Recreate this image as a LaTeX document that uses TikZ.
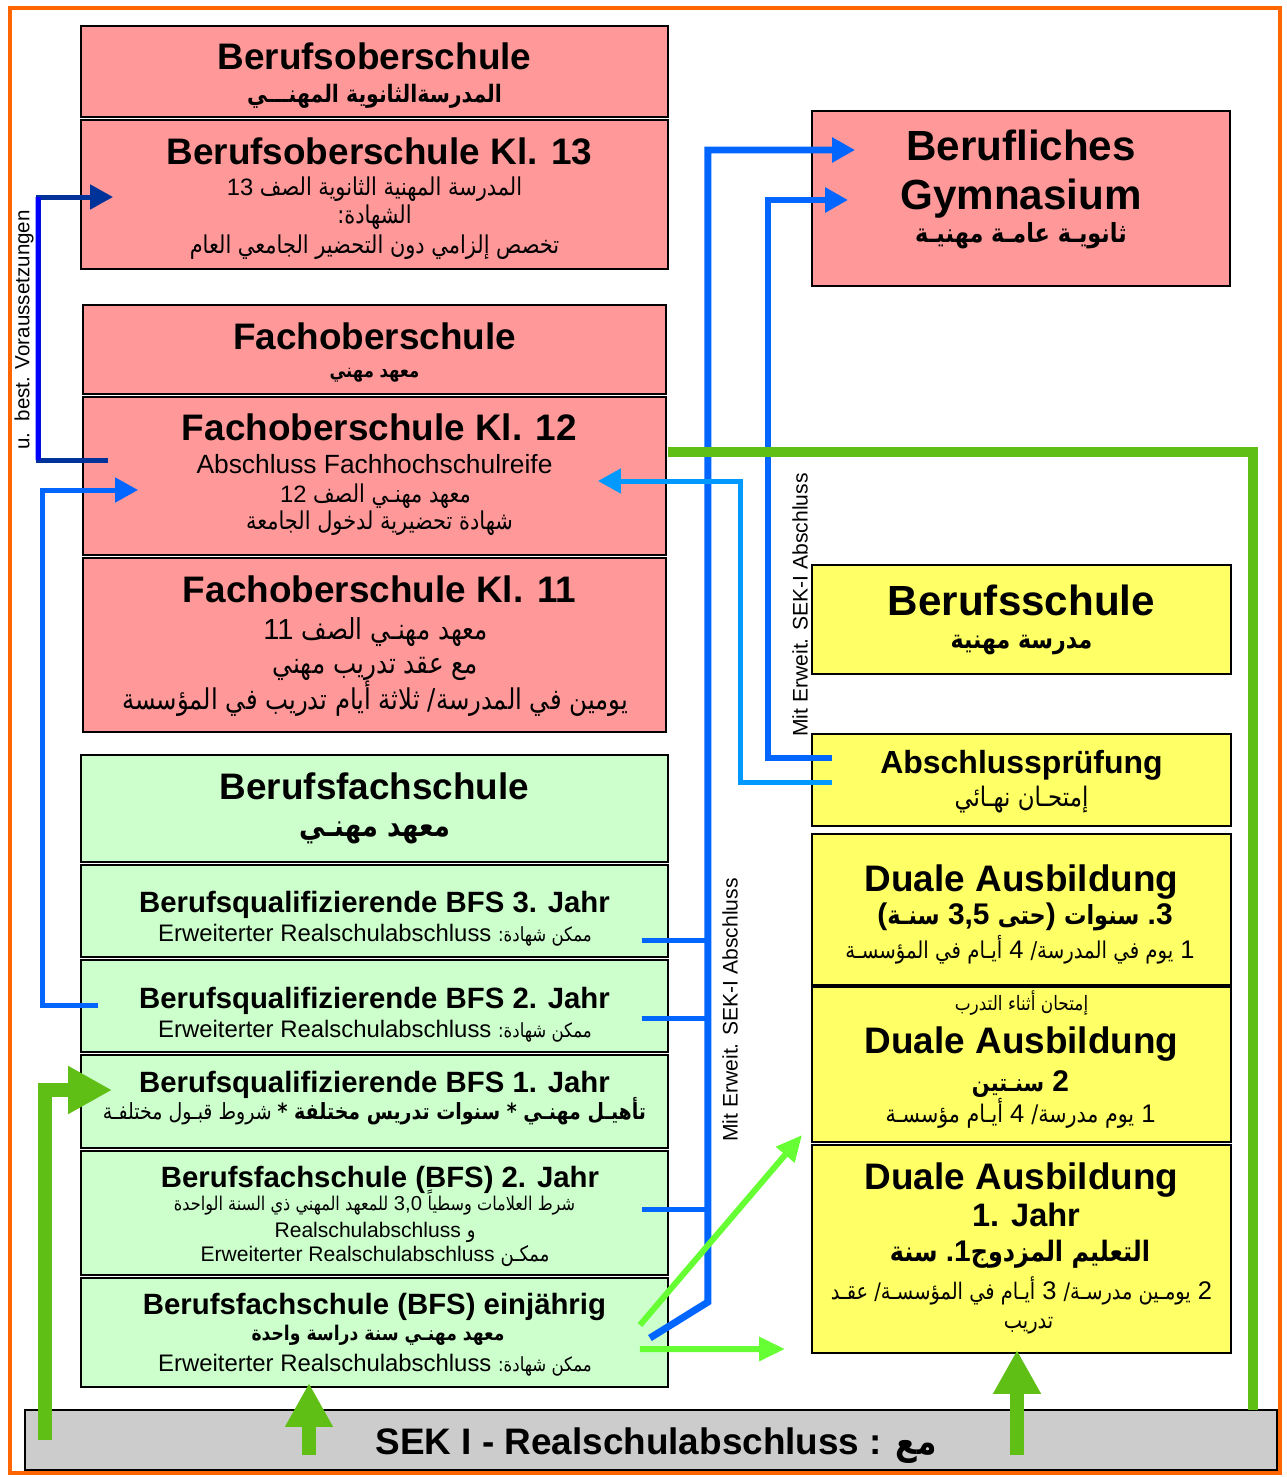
\documentclass[tikz,border=0pt]{standalone}
\usepackage{fontspec}
\setmainfont{Liberation Sans}
\newfontfamily\arab[Script=Arabic,FakeStretch=0.85]{DejaVu Sans}
\TeXXeTstate=1
\usetikzlibrary{arrows.meta,calc}
\definecolor{pinkc}{HTML}{FF9999}
\definecolor{greenc}{HTML}{CCFFCC}
\definecolor{yellc}{HTML}{FFFF66}
\definecolor{grayc}{HTML}{CCCCCC}
\definecolor{orangec}{HTML}{FF6600}
\definecolor{trunkc}{HTML}{0066FF}
\definecolor{lbluec}{HTML}{0099FF}
\definecolor{dbluec}{HTML}{003399}
\definecolor{pbluec}{HTML}{0000FF}
\definecolor{dgreenc}{HTML}{5FBF14}
\definecolor{lgreenc}{HTML}{66FF33}
\newcommand\AR[1]{{\arab\beginR#1\endR}}
\newcommand\fs[1]{\fontsize{#1}{#1}\selectfont}
\newcommand\ttl{\fs{21}\bfseries}
\newcommand\bqt{\fs{16.7}\bfseries}
\begin{document}
\begin{tikzpicture}[x=0.02cm,y=-0.02cm,
  box/.style={draw=black,line width=1.4pt,inner sep=0pt,outer sep=0pt},
  txt/.style={anchor=base,inner sep=0pt,outer sep=0pt},
  bluetip/.style={-{Triangle[length=0.46cm,width=0.48cm]}},
  bigtip/.style={-{Triangle[length=0.88cm,width=0.9cm]}},
  lgtip/.style={-{Triangle[length=0.52cm,width=0.46cm]}},
  vlabel/.style={rotate=90,inner sep=0pt}]
\useasboundingbox (0,0) rectangle (1286,1477);
\fill[white] (0,0) rectangle (1286,1477);
\draw[orangec,line width=2.3pt] (10,8) rectangle (1280,1473);

% ---------- boxes ----------
\node[box,fill=pinkc,minimum width=11.74cm,minimum height=1.82cm] (bos) at (374.5,71.5) {};
\node[box,fill=pinkc,minimum width=11.74cm,minimum height=2.98cm] (bos13) at (374.5,194.5) {};
\node[box,fill=pinkc,minimum width=11.66cm,minimum height=1.78cm] (fos) at (374.5,349.5) {};
\node[box,fill=pinkc,minimum width=11.66cm,minimum height=3.16cm] (fos12) at (374.5,476) {};
\node[box,fill=pinkc,minimum width=11.66cm,minimum height=3.48cm] (fos11) at (374.5,645) {};
\node[box,fill=greenc,minimum width=11.74cm,minimum height=2.14cm] (bfs) at (374.5,808.5) {};
\node[box,fill=greenc,minimum width=11.74cm,minimum height=1.84cm] (bq3) at (374.5,911) {};
\node[box,fill=greenc,minimum width=11.74cm,minimum height=1.84cm] (bq2) at (374.5,1006) {};
\node[box,fill=greenc,minimum width=11.74cm,minimum height=1.86cm] (bq1) at (374.5,1101.5) {};
\node[box,fill=greenc,minimum width=11.74cm,minimum height=2.48cm] (bfs2) at (374.5,1213) {};
\node[box,fill=greenc,minimum width=11.74cm,minimum height=2.18cm] (bfs1) at (374.5,1332.5) {};
\node[box,fill=pinkc,minimum width=8.36cm,minimum height=3.5cm] (bg) at (1021,198.5) {};
\node[box,fill=yellc,minimum width=8.38cm,minimum height=2.18cm] (bs) at (1021.5,619.5) {};
\node[box,fill=yellc,minimum width=8.38cm,minimum height=1.84cm] (ap) at (1021.5,780) {};
\node[box,fill=yellc,minimum width=8.38cm,minimum height=3.02cm] (d3) at (1021.5,909.5) {};
\node[box,fill=yellc,minimum width=8.38cm,minimum height=3.1cm] (d2) at (1021.5,1064.5) {};
\node[box,fill=yellc,minimum width=8.38cm,minimum height=4.16cm] (d1) at (1021.5,1249) {};
\node[box,fill=grayc,minimum width=25.04cm,minimum height=1.2cm] (sek) at (651,1440) {};

% ---------- texts ----------
\node[txt] (bosA) at (374.5,70) {\ttl Berufsoberschule};
\node[txt] (bosB) at (374.5,103) {\fs{13.7}\bfseries\AR{المدرسةالثانوية المهنـــي}};
\node[txt] (b13A) at (379.5,164) {\ttl Berufsoberschule Kl. 13};
\node[txt] (b13B) at (374.5,195) {\fs{13.5}13 \AR{\fs{14}المدرسة المهنية الثانوية الصف}};
\node[txt] (b13C) at (374.5,223) {\fs{14}\AR{الشهادة:}};
\node[txt] (b13D) at (374.5,253) {\fs{14}\AR{تخصص إلزامي دون التحضير الجامعي العام}};

\node[txt] (fosA) at (374.5,349) {\ttl Fachoberschule};
\node[txt] (fosB) at (374.5,377) {\fs{11}\bfseries\AR{معهد مهني}};
\node[txt] (f12A) at (379.5,440) {\ttl Fachoberschule Kl. 12};
\node[txt] (f12B) at (374.5,473.5) {\fs{15}Abschluss Fachhochschulreife};
\node[txt] (f12C) at (375.5,502) {\fs{13.5}12 \AR{\fs{14}معهد مهنـي الصف}};
\node[txt] (f12D) at (379.5,529) {\fs{14}\AR{شهادة تحضيرية لدخول الجامعة}};
\node[txt] (f11A) at (379.5,602) {\ttl Fachoberschule Kl. 11};
\node[txt] (f11B) at (375.5,639) {\fs{16.5}11 \AR{معهد مهنـي الصف}};
\node[txt] (f11C) at (375.5,673) {\fs{16.5}\AR{مع عقد تدريب مهني}};
\node[txt] (f11D) at (375,709) {\fs{16.3}\AR{يومين في المدرسة/ ثلاثة أيام تدريب في المؤسسة}};

\node[txt] (bfsA) at (374.5,799) {\ttl Berufsfachschule};
\node[txt] (bfsB) at (374.5,836) {\fs{17.4}\bfseries\AR{معهد مهنـي}};
\node[txt] (bq3A) at (374.5,912.5) {\bqt Berufsqualifizierende BFS 3. Jahr};
\node[txt] (bq3B) at (375,941) {\fs{13.6}Erweiterter Realschulabschluss \AR{\fs{11.1}ممكن شهادة:}};
\node[txt] (bq2A) at (374.5,1008.5) {\bqt Berufsqualifizierende BFS 2. Jahr};
\node[txt] (bq2B) at (375,1037) {\fs{13.6}Erweiterter Realschulabschluss \AR{\fs{11.1}ممكن شهادة:}};
\node[txt] (bq1A) at (374.5,1092.5) {\bqt Berufsqualifizierende BFS 1. Jahr};
\node[txt] (bq1B) at (374.5,1119) {\fs{12.7}\AR{{\bfseries تأهيـل مهنـي * سنوات تدريس مختلفة *} شروط قبـول مختلفـة}};
\node[txt] (bf2A) at (380,1187.5) {\bqt Berufsfachschule (BFS) 2. Jahr};
\node[txt] (bf2B) at (374.5,1210) {\fs{11.5}\AR{\fs{10.8}للمعهد المهني ذي السنة الواحدة} 3,0 \AR{\fs{10.8}شرط العلامات وسطياً}};
\node[txt] (bf2C) at (375,1237.5) {\fs{12}Realschulabschluss \AR{و}};
\node[txt] (bf2D) at (375,1261.5) {\fs{12}Erweiterter Realschulabschluss \AR{ممكـن}};
\node[txt] (bf1A) at (374.5,1314.5) {\bqt Berufsfachschule (BFS) einjährig};
\node[txt] (bf1B) at (378,1340) {\fs{11.5}\bfseries\AR{معهد مهنـي سنة دراسة واحدة}};
\node[txt] (bf1C) at (375,1371) {\fs{13.6}Erweiterter Realschulabschluss \AR{\fs{11.1}ممكن شهادة:}};

\node[txt] (bgA) at (1021,160) {\fs{24}\bfseries Berufliches};
\node[txt] (bgB) at (1021,209) {\fs{24}\bfseries Gymnasium};
\node[txt] (bgC) at (1021,242) {\fs{15}\bfseries\AR{ثانويـة عامـة مهنيـة}};
\node[txt] (bsA) at (1021.5,615) {\fs{24}\bfseries Berufsschule};
\node[txt] (bsB) at (1021.5,648) {\fs{14.8}\bfseries\AR{مدرسة مهنية}};
\node[txt] (apA) at (1021.5,773) {\fs{18.2}\bfseries Abschlussprüfung};
\node[txt] (apB) at (1021.5,806) {\fs{15.3}\AR{إمتحـان نهـائي}};
\node[txt] (d3A) at (1021.5,891) {\ttl Duale Ausbildung};
\node[txt] (d3B) at (1025,924) {\fs{17}\bfseries (\AR{\fs{15}سنـة} 3,5 \AR{\fs{15}حتى}) \AR{\fs{15}سنوات} .3};
\node[txt] (d3C) at (1020,958) {\fs{14.5}\AR{\fs{13.2}أيـام في المؤسسـة} 4 \AR{\fs{13.2}يوم في المدرسة/} 1};
\node[txt] (d2A) at (1021.5,1010) {\fs{11.3}\AR{إمتحان أثناء التدرب}};
\node[txt] (d2B) at (1021.5,1053) {\ttl Duale Ausbildung};
\node[txt] (d2C) at (1020.5,1091) {\fs{17}\bfseries\AR{\fs{14}سنـتين} 2};
\node[txt] (d2D) at (1020.5,1122) {\fs{14.5}\AR{\fs{13.8}أيـام مؤسسـة} 4 \AR{\fs{13.8}يوم مدرسة/} 1};
\node[txt] (d1A) at (1021.5,1189) {\ttl Duale Ausbildung};
\node[txt] (d1B) at (1026,1226) {\fs{18.5}\bfseries 1. Jahr};
\node[txt] (d1C) at (1020,1261) {\fs{17}\bfseries\AR{\fs{16}سنة} .1\AR{\fs{16}التعليم المزدوج}};
\node[txt] (d1D) at (1021.5,1299) {\fs{14.5}\AR{\fs{13}أيـام في المؤسسـة/ عقـد} 3 \AR{\fs{13}يومـين مدرسـة/} 2};
\node[txt] (d1E) at (1028.5,1328) {\fs{13}\AR{تدريب}};
\node[txt] (sekA) at (656,1454) {\ttl SEK I - Realschulabschluss : \AR{مع}};

% ---------- rotated labels ----------
\node[vlabel] (labV) at (24,330) {\fs{11.7}u.\ \ best. Voraussetzungen};
\node[vlabel] (labM1) at (730,1010) {\fs{12}Mit Erweit. SEK-I Abschluss};
\node[vlabel] (labM2) at (800,605) {\fs{12}Mit Erweit. SEK-I Abschluss};

% ---------- connectors ----------
% u. best. Voraussetzungen
\draw[dbluec,line width=0.1cm,bluetip] ($(fos12.west)+(25,-16)$) -- ++(-70,0) |- ($(bos13.west)+(32,2.5)$);
\draw[pbluec,line width=0.1cm] ($(fos12.west)+(-45,-16)$) -- ($(bos13.west)+(-43,2.5)$);
% from BQ BFS 2 to FOS 12
\draw[trunkc,line width=0.1cm,bluetip] ($(bq2.west)+(17,-1)$) -- ++(-56,0) |- ($(fos12.west)+(55,14)$);
% main trunk to Berufliches Gymnasium
\draw[trunkc,line width=0.14cm,bluetip] ($(bfs1.east)+(-18,5.5)$) -- ++(58,-36) |- ($(bg.west)+(43,-48.5)$);
\draw[trunkc,line width=0.1cm] ($(bq3.east)+(-26,29)$) -- ++(66,0);
\draw[trunkc,line width=0.1cm] ($(bq2.east)+(-26,12)$) -- ++(66,0);
\draw[trunkc,line width=0.1cm] ($(bfs2.east)+(-26,-4)$) -- ++(66,0);
% Abschlusspruefung to Berufliches Gymnasium
\draw[trunkc,line width=0.12cm,bluetip] ($(ap.west)+(20,-22)$) -- ++(-64,0) |- ($(bg.west)+(36,1.5)$);
% Abschlusspruefung to FOS 12
\draw[lbluec,line width=0.1cm,bluetip] ($(ap.west)+(20,2)$) -- ++(-92,0) |- ($(fos12.east)+(-68,5)$);
% dark green line from FOS 12 to SEK bar
\draw[dgreenc,line width=0.2cm] ($(fos12.east)+(2,-24)$) -| ($(sek.north east)+(-24,0)$);
% green arrows from SEK bar
\draw[dgreenc,line width=0.28cm,bigtip] ($(sek.west)+(20,0)$) |- ($(bq1.west)+(31,-11.5)$);
\draw[dgreenc,line width=0.28cm,bigtip] ($(bfs1.south)+(-65.5,68)$) -- ($(bfs1.south)+(-65.5,-4)$);
\draw[dgreenc,line width=0.28cm,bigtip] ($(d1.south)+(-4.5,102)$) -- ($(d1.south)+(-4.5,-3)$);
% light green arrows from BFS einjaehrig to Duale Ausbildung
\draw[lgreenc,line width=0.12cm,lgtip] ($(bfs1.east)+(-28,-7.5)$) -- ($(d1.west)+(-10,-114)$);
\draw[lgreenc,line width=0.12cm,lgtip] ($(bfs1.east)+(-28,16.5)$) -- ($(d1.west)+(-27,100)$);
\end{tikzpicture}
\end{document}
